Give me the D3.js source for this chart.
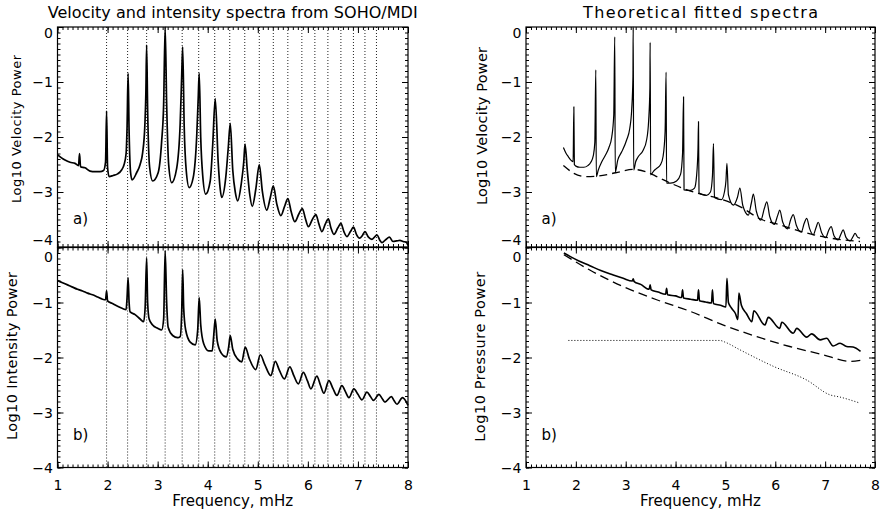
<!DOCTYPE html>
<html>
<head>
<meta charset="utf-8">
<script src="https://cdn.jsdelivr.net/npm/d3@7"></script>
<style>
  body { margin: 0; background: #fff; }
  svg text { font-family: 'DejaVu Sans', sans-serif; fill: #000; }
</style>
</head>
<body>
<div id="chart"></div>
<script>
// axis ticks
const xTicks = [1, 2, 3, 4, 5, 6, 7, 8];
const yTicks = [0, -1, -2, -3, -4];

// mode frequencies (mHz) marked with dotted lines in the observed panels
const modeFreqs = [1.98, 2.40, 2.78, 3.15, 3.49, 3.82, 4.14, 4.44, 4.74, 5.03,
  5.31, 5.60, 5.88, 6.14, 6.40, 6.66, 6.91, 7.14, 7.37];

// observed SOHO/MDI velocity spectrum [freq, log10 power]
const obsVelocity = [
  [1.00,-2.32],[1.08,-2.38],[1.15,-2.42],[1.25,-2.46],[1.35,-2.48],[1.42,-2.52],[1.44,-2.30],[1.46,-2.54],
  [1.55,-2.56],[1.65,-2.62],[1.75,-2.63],[1.85,-2.63],[1.92,-2.61],[1.96,-2.45],[1.98,-1.53],[2.00,-2.55],
  [2.03,-2.72],[2.11,-2.70],[2.20,-2.67],[2.28,-2.60],[2.33,-2.50],[2.37,-2.30],[2.39,-1.8],[2.41,-0.84],
  [2.43,-1.9],[2.46,-2.65],[2.49,-2.78],[2.58,-2.65],[2.65,-2.50],[2.70,-2.29],[2.745,-1.78],[2.765,-1.2],
  [2.78,-0.33],[2.80,-1.5],[2.84,-2.55],[2.90,-2.80],[3.01,-2.65],[3.08,-2.08],[3.12,-1.4],[3.15,0],
  [3.18,-1.4],[3.22,-2.5],[3.28,-2.83],[3.38,-2.57],[3.45,-1.76],[3.48,-0.9],[3.50,-0.36],[3.53,-1.8],
  [3.57,-2.6],[3.63,-2.92],[3.71,-2.74],[3.78,-1.99],[3.81,-1.3],[3.83,-0.84],[3.86,-2.0],[3.90,-2.7],
  [3.96,-3.04],[4.05,-2.8],[4.10,-2.14],[4.15,-1.30],[4.21,-2.47],[4.25,-2.95],[4.28,-3.10],[4.36,-2.74],
  [4.41,-2.2],[4.45,-1.75],[4.50,-2.6],[4.55,-3.0],[4.60,-3.16],[4.67,-2.85],[4.72,-2.45],[4.745,-2.13],
  [4.79,-2.6],[4.84,-3.05],[4.89,-3.26],[4.96,-2.95],[5.03,-2.50],[5.09,-2.98],[5.18,-3.33],[5.25,-3.1],
  [5.31,-2.89],[5.38,-3.22],[5.46,-3.43],[5.54,-3.25],[5.60,-3.12],[5.67,-3.37],[5.74,-3.54],[5.82,-3.40],
  [5.89,-3.30],[5.95,-3.48],[6.01,-3.63],[6.09,-3.50],[6.16,-3.41],[6.22,-3.58],[6.28,-3.72],[6.35,-3.58],
  [6.41,-3.49],[6.46,-3.65],[6.52,-3.77],[6.60,-3.65],[6.66,-3.57],[6.72,-3.72],[6.78,-3.81],[6.85,-3.72],
  [6.91,-3.64],[6.97,-3.77],[7.03,-3.84],[7.09,-3.79],[7.14,-3.72],[7.21,-3.82],[7.28,-3.86],[7.33,-3.82],
  [7.38,-3.78],[7.44,-3.88],[7.48,-3.92],[7.55,-3.87],[7.63,-3.82],[7.70,-3.90],[7.77,-3.89],[7.84,-3.88],
  [7.90,-3.90],[7.96,-3.91],[8.00,-3.97]
];

// observed intensity spectrum
const obsIntensity = [
  [1.00,-0.60],[1.10,-0.64],[1.20,-0.68],[1.30,-0.72],[1.40,-0.76],[1.50,-0.79],[1.60,-0.83],[1.70,-0.86],
  [1.80,-0.90],[1.90,-0.94],[1.96,-0.95],[1.98,-0.79],[2.00,-0.97],[2.10,-1.02],[2.20,-1.07],[2.30,-1.11],
  [2.37,-1.13],[2.39,-0.9],[2.41,-0.55],[2.43,-1.0],[2.45,-1.17],[2.55,-1.22],[2.65,-1.30],[2.72,-1.35],
  [2.75,-1.1],[2.78,-0.19],[2.80,-1.0],[2.83,-1.30],[2.90,-1.41],[3.00,-1.47],[3.08,-1.50],[3.12,-1.3],
  [3.15,-0.06],[3.18,-1.0],[3.21,-1.45],[3.30,-1.60],[3.40,-1.64],[3.45,-1.62],[3.48,-1.2],[3.50,-0.40],
  [3.52,-1.1],[3.56,-1.50],[3.65,-1.72],[3.75,-1.77],[3.80,-1.5],[3.83,-0.91],[3.86,-1.4],[3.92,-1.75],
  [4.02,-1.88],[4.09,-1.88],[4.12,-1.6],[4.15,-1.30],[4.19,-1.7],[4.27,-1.92],[4.37,-1.99],[4.42,-1.8],
  [4.45,-1.60],[4.50,-1.85],[4.60,-2.03],[4.68,-2.08],[4.75,-1.81],[4.83,-2.02],[4.96,-2.22],[5.05,-1.95],
  [5.14,-2.13],[5.26,-2.33],[5.35,-2.07],[5.43,-2.23],[5.53,-2.39],[5.64,-2.17],[5.72,-2.33],[5.81,-2.48],
  [5.91,-2.27],[5.99,-2.42],[6.06,-2.57],[6.18,-2.34],[6.25,-2.50],[6.32,-2.65],[6.42,-2.42],[6.50,-2.56],
  [6.58,-2.69],[6.68,-2.51],[6.75,-2.62],[6.82,-2.73],[6.92,-2.57],[7.00,-2.67],[7.08,-2.77],[7.18,-2.63],
  [7.25,-2.71],[7.31,-2.78],[7.42,-2.67],[7.48,-2.74],[7.54,-2.81],[7.67,-2.71],[7.72,-2.78],[7.78,-2.85],
  [7.89,-2.73],[8.00,-2.87]
];

// theoretical fitted velocity spectrum and its background
const fitVelocity = [
  [1.75,-2.19],[1.80,-2.29],[1.85,-2.36],[1.90,-2.42],[1.945,-2.45],[1.96,-1.45],[1.97,-2.50],[2.00,-2.53],
  [2.08,-2.55],[2.16,-2.55],[2.24,-2.52],[2.30,-2.46],[2.35,-2.34],[2.38,-2.1],[2.40,-0.78],[2.41,-2.72],
  [2.45,-2.60],[2.52,-2.45],[2.60,-2.32],[2.66,-2.20],[2.72,-2.00],[2.76,-1.6],[2.78,-0.18],[2.79,-2.64],
  [2.84,-2.42],[2.92,-2.27],[3.02,-2.05],[3.08,-1.85],[3.12,-1.5],[3.145,-0.9],[3.15,0],[3.16,-2.60],
  [3.20,-2.45],[3.25,-2.36],[3.35,-2.24],[3.42,-2.05],[3.46,-1.7],[3.485,-1.1],[3.49,-0.28],[3.50,-2.69],
  [3.56,-2.62],[3.62,-2.57],[3.70,-2.50],[3.75,-2.35],[3.79,-1.9],[3.81,-0.82],[3.82,-2.84],[3.90,-2.84],
  [4.02,-2.80],[4.10,-2.68],[4.14,-2.3],[4.16,-1.27],[4.17,-2.96],[4.30,-2.97],[4.38,-2.93],[4.42,-2.72],
  [4.45,-2.2],[4.46,-1.72],[4.47,-3.02],[4.62,-3.06],[4.70,-3.0],[4.74,-2.7],[4.76,-2.12],[4.78,-3.10],
  [4.92,-3.14],[4.98,-3.0],[5.01,-2.8],[5.03,-2.48],[5.06,-3.05],[5.16,-3.24],[5.24,-3.1],[5.29,-2.93],
  [5.35,-3.25],[5.46,-3.42],[5.52,-3.2],[5.56,-3.04],[5.62,-3.35],[5.71,-3.51],[5.78,-3.3],[5.83,-3.18],
  [5.89,-3.45],[5.98,-3.59],[6.05,-3.42],[6.09,-3.33],[6.15,-3.55],[6.25,-3.67],[6.31,-3.5],[6.36,-3.41],
  [6.42,-3.6],[6.52,-3.73],[6.58,-3.57],[6.63,-3.48],[6.69,-3.67],[6.76,-3.78],[6.82,-3.64],[6.86,-3.55],
  [6.93,-3.74],[7.01,-3.83],[7.07,-3.7],[7.12,-3.63],[7.18,-3.8],[7.26,-3.87],[7.32,-3.76],[7.36,-3.69],
  [7.42,-3.83],[7.50,-3.89],[7.56,-3.81],[7.60,-3.75],[7.65,-3.82],[7.70,-3.84]
];
const fitVelocityBg = [
  [1.75,-2.52],[1.96,-2.66],[2.20,-2.72],[2.45,-2.71],[2.80,-2.65],[3.15,-2.59],[3.40,-2.63],[3.60,-2.71],
  [3.90,-2.84],[4.20,-2.95],[4.50,-3.04],[4.80,-3.10],[5.30,-3.27],[5.70,-3.49],[6.10,-3.60],[6.60,-3.74],
  [7.05,-3.83],[7.70,-3.90]
];

// theoretical pressure spectrum, background and dotted component
const fitPressure = [
  [1.76,-0.10],[1.90,-0.17],[2.05,-0.24],[2.28,-0.33],[2.50,-0.42],[2.75,-0.50],[2.95,-0.56],[3.13,-0.61],
  [3.15,-0.57],[3.17,-0.62],[3.30,-0.67],[3.47,-0.76],[3.49,-0.68],[3.51,-0.77],[3.65,-0.81],[3.80,-0.85],
  [3.82,-0.74],[3.84,-0.86],[4.00,-0.88],[4.12,-0.91],[4.14,-0.77],[4.16,-0.92],[4.30,-0.94],[4.44,-0.96],
  [4.46,-0.77],[4.48,-0.97],[4.60,-0.99],[4.72,-1.01],[4.74,-0.77],[4.76,-1.02],[4.90,-1.05],[5.01,-1.08],
  [5.03,-0.56],[5.06,-1.0],[5.12,-1.1],[5.20,-1.2],[5.25,-1.31],[5.27,-0.83],[5.32,-1.05],[5.42,-1.2],
  [5.53,-1.35],[5.57,-1.15],[5.79,-1.41],[5.86,-1.27],[6.09,-1.47],[6.13,-1.36],[6.36,-1.56],[6.43,-1.47],
  [6.63,-1.63],[6.73,-1.57],[6.90,-1.68],[7.03,-1.65],[7.16,-1.79],[7.30,-1.74],[7.43,-1.80],[7.56,-1.81],
  [7.71,-1.89]
];
const fitPressureBg = [
  [1.76,-0.13],[2.28,-0.41],[2.95,-0.71],[3.62,-0.95],[4.29,-1.16],[4.96,-1.41],[5.63,-1.62],[6.29,-1.80],
  [6.96,-1.95],[7.50,-2.07],[7.71,-2.05]
];
const fitPressureDot = [
  [1.85,-1.69],[4.89,-1.69],[4.99,-1.72],[5.29,-1.86],[5.96,-2.16],[6.63,-2.41],[7.10,-2.68],[7.30,-2.72],
  [7.70,-2.83]
];

const W = 880, H = 515;
const svg = d3.select('#chart').append('svg').attr('width', W).attr('height', H);
svg.append('rect').attr('width', W).attr('height', H).attr('fill', '#fff');

const cols = { left: [57.5, 408], right: [526, 875] };
const rows = { top: [247, 27], bottom: [467.5, 247.5] };
const minorX = d3.range(1, 8.0001, 0.1);
const minorY = d3.range(-4, 0.0001, 0.1);

function drawPanel(col, row, opts) {
  const x = d3.scaleLinear().domain([1, 8]).range(cols[col]);
  const y = d3.scaleLinear().domain([-4, 0]).range(rows[row]);
  const g = svg.append('g');
  const [x0, x1] = x.range();
  const [yb, yt] = y.range();

  // dotted mode lines
  if (opts.modes) {
    g.selectAll('line.mode').data(opts.modes).enter().append('line')
      .attr('class', 'mode')
      .attr('x1', d => x(d)).attr('x2', d => x(d))
      .attr('y1', yt).attr('y2', yb)
      .attr('stroke', '#222').attr('stroke-width', 1).attr('stroke-dasharray', '1,2');
  }

  // ticks on all four sides, pointing in
  const addAxis = (axis, tx, ty) => {
    const a = g.append('g').attr('transform', `translate(${tx},${ty})`).call(axis);
    a.select('.domain').remove();
    a.selectAll('line').attr('stroke', '#000').attr('stroke-width', 1);
    return a;
  };
  addAxis(d3.axisBottom(x).tickValues(minorX).tickSize(-3).tickFormat(''), 0, yb);
  addAxis(d3.axisTop(x).tickValues(minorX).tickSize(-3).tickFormat(''), 0, yt);
  addAxis(d3.axisLeft(y).tickValues(minorY).tickSize(-3).tickFormat(''), x0, 0);
  addAxis(d3.axisRight(y).tickValues(minorY).tickSize(-3).tickFormat(''), x1, 0);
  addAxis(d3.axisBottom(x).tickValues(xTicks).tickSize(-6).tickFormat(''), 0, yb);
  addAxis(d3.axisTop(x).tickValues(xTicks).tickSize(-6).tickFormat(''), 0, yt);
  addAxis(d3.axisLeft(y).tickValues(yTicks).tickSize(-6).tickFormat(''), x0, 0);
  addAxis(d3.axisRight(y).tickValues(yTicks).tickSize(-6).tickFormat(''), x1, 0);

  // y tick labels; where the two panels meet, the top panel's −4 is lifted
  // and the bottom panel's 0 dropped so they do not collide
  const yl = addAxis(d3.axisLeft(y).tickValues(yTicks).tickSize(0).tickPadding(4.5)
    .tickFormat(d3.format('d')), x0, 0);
  yl.attr('font-family', null).attr('font-size', null);
  yl.selectAll('text').style('font-size', '14px')
    .attr('dy', d => {
      if (d === 0) return row === 'top' ? '10.5px' : '13.5px';
      if (d === -4 && row === 'top') return '-2.5px';
      return '0.34em';
    });

  // x tick labels on the lower panels
  if (row === 'bottom') {
    const xl = addAxis(d3.axisBottom(x).tickValues(xTicks).tickSize(0).tickPadding(12.5)
      .tickFormat(d3.format('d')), 0, yb);
    xl.attr('font-family', null).attr('font-size', null);
    xl.selectAll('text').style('font-size', '14px');
    g.append('text').attr('x', (x0 + x1) / 2).attr('y', 506)
      .attr('text-anchor', 'middle').style('font-size', '15px')
      .text('Frequency, mHz');
  }

  // frame
  g.append('rect').attr('x', x0).attr('y', yt).attr('width', x1 - x0).attr('height', yb - yt)
    .attr('fill', 'none').attr('stroke', '#000').attr('stroke-width', 1.2);

  // y title
  g.append('text')
    .attr('transform', `translate(${opts.ytitle.x},${opts.ytitle.y}) rotate(-90)`)
    .attr('text-anchor', 'middle')
    .attr('textLength', opts.ytitle.len).attr('lengthAdjust', 'spacing')
    .style('font-size', opts.ytitle.size + 'px')
    .text(opts.ytitle.text);

  // panel letter
  g.append('text').attr('x', x0 + 15.5).attr('y', row === 'top' ? 224 : 440)
    .style('font-size', '15px').text(row === 'top' ? 'a)' : 'b)');

  // curves
  const line = d3.line().x(d => x(d[0])).y(d => y(d[1])).curve(d3.curveMonotoneX);
  opts.series.forEach(s => {
    g.append('path').datum(s.data)
      .attr('d', line)
      .attr('fill', 'none').attr('stroke', '#000')
      .attr('stroke-width', s.width)
      .attr('stroke-linejoin', 'round')
      .attr('stroke-dasharray', s.dash || null);
  });
}

drawPanel('left', 'top', {
  modes: modeFreqs,
  ytitle: { x: 20.5, y: 129, text: 'Log10 Velocity Power', size: 13, len: 148 },
  series: [{ data: obsVelocity, width: 1.7 }]
});
drawPanel('left', 'bottom', {
  modes: modeFreqs,
  ytitle: { x: 17, y: 356, text: 'Log10 Intensity Power', size: 14.5, len: 168 },
  series: [{ data: obsIntensity, width: 1.7 }]
});
drawPanel('right', 'top', {
  ytitle: { x: 487, y: 126, text: 'Log10 Velocity Power', size: 14.5, len: 158 },
  series: [
    { data: fitVelocityBg, width: 1.3, dash: '8,5' },
    { data: fitVelocity, width: 1.2 }
  ]
});
drawPanel('right', 'bottom', {
  ytitle: { x: 485, y: 356.7, text: 'Log10 Pressure Power', size: 14.5, len: 170 },
  series: [
    { data: fitPressureDot, width: 1, dash: '1,2' },
    { data: fitPressureBg, width: 1.3, dash: '9,5' },
    { data: fitPressure, width: 1.6 }
  ]
});

// titles
svg.append('text').attr('x', 232.7).attr('y', 18.3).attr('text-anchor', 'middle')
  .attr('textLength', 370).attr('lengthAdjust', 'spacing')
  .style('font-size', '16px').text('Velocity and intensity spectra from SOHO/MDI');
svg.append('text').attr('x', 700.5).attr('y', 18.3).attr('text-anchor', 'middle')
  .attr('textLength', 235).attr('lengthAdjust', 'spacing')
  .style('font-size', '16px').text('Theoretical fitted spectra');
</script>
</body>
</html>
